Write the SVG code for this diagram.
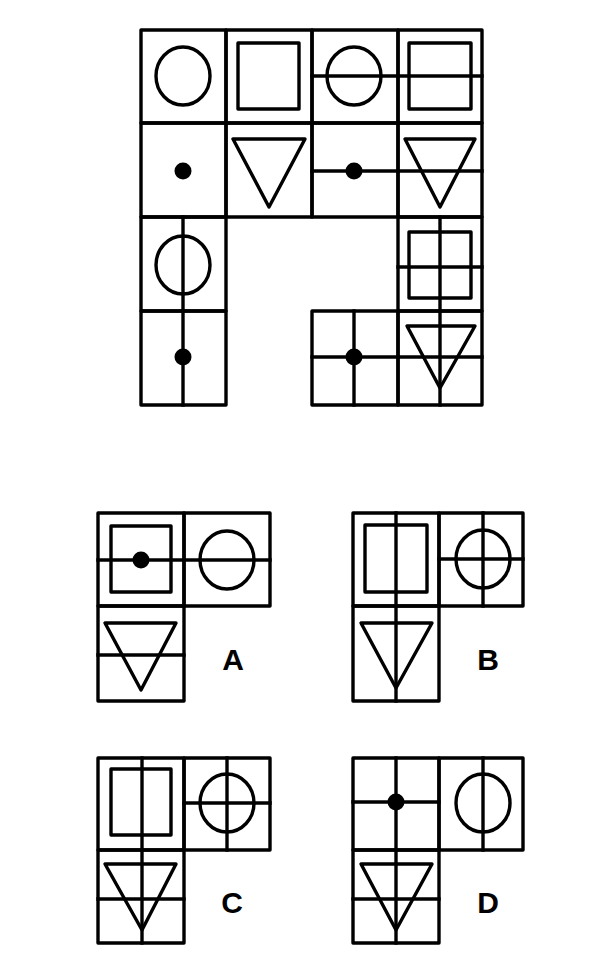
<svg xmlns="http://www.w3.org/2000/svg" width="603" height="974" viewBox="0 0 603 974">
<style>
.s{fill:none;stroke:#000;stroke-width:3.4;stroke-linejoin:round;stroke-linecap:square}
.d{fill:#000}
.l{font-family:"Liberation Sans",Arial,sans-serif;font-weight:bold;font-size:30px;fill:#000;text-anchor:middle}
</style>
<rect width="603" height="974" fill="#fff"/>
<g id="puzzle">
  <g id="r0c0"><rect class="s" x="141" y="30" width="85" height="93"/><ellipse class="s" cx="183" cy="76" rx="27" ry="29"/></g>
  <g id="r0c1"><rect class="s" x="226" y="30" width="86" height="93"/><rect class="s" x="238" y="43" width="61" height="66"/></g>
  <g id="r0c2"><rect class="s" x="312" y="30" width="86" height="93"/><ellipse class="s" cx="354" cy="76" rx="27" ry="29"/><line class="s" x1="312" y1="76" x2="398" y2="76"/></g>
  <g id="r0c3"><rect class="s" x="398" y="30" width="84" height="93"/><rect class="s" x="409" y="43" width="62" height="66"/><line class="s" x1="398" y1="76" x2="482" y2="76"/></g>
  <g id="r1c0"><rect class="s" x="141" y="123" width="85" height="94"/><circle class="d" cx="183" cy="171" r="8.5"/></g>
  <g id="r1c1"><rect class="s" x="226" y="123" width="86" height="94"/><polygon class="s" points="233,139 305,139 269,207"/></g>
  <g id="r1c2"><rect class="s" x="312" y="123" width="86" height="94"/><line class="s" x1="312" y1="171" x2="398" y2="171"/><circle class="d" cx="354" cy="171" r="8.5"/></g>
  <g id="r1c3"><rect class="s" x="398" y="123" width="84" height="94"/><polygon class="s" points="405,139 475,139 440,207"/><line class="s" x1="398" y1="171" x2="482" y2="171"/></g>
  <g id="r2c0"><rect class="s" x="141" y="217" width="85" height="94"/><ellipse class="s" cx="183" cy="265" rx="27" ry="29"/><line class="s" x1="183" y1="217" x2="183" y2="311"/></g>
  <g id="r2c3"><rect class="s" x="398" y="217" width="84" height="94"/><rect class="s" x="409" y="232" width="62" height="66"/><line class="s" x1="440" y1="217" x2="440" y2="311"/><line class="s" x1="398" y1="267" x2="482" y2="267"/></g>
  <g id="r3c0"><rect class="s" x="141" y="311" width="85" height="94"/><line class="s" x1="183" y1="311" x2="183" y2="405"/><circle class="d" cx="183" cy="357" r="8.5"/></g>
  <g id="r3c2"><rect class="s" x="312" y="311" width="86" height="94"/><line class="s" x1="354" y1="311" x2="354" y2="405"/><line class="s" x1="312" y1="357" x2="398" y2="357"/><circle class="d" cx="354" cy="357" r="8.5"/></g>
  <g id="r3c3"><rect class="s" x="398" y="311" width="84" height="94"/><polygon class="s" points="407,326 475,326 440,388"/><line class="s" x1="440" y1="311" x2="440" y2="405"/><line class="s" x1="398" y1="357" x2="482" y2="357"/></g>
</g>
<g id="optA">
  <rect class="s" x="98" y="513" width="86" height="93"/><rect class="s" x="184" y="513" width="86" height="93"/><rect class="s" x="98" y="606" width="86" height="95"/>
  <rect class="s" x="111" y="526" width="60" height="66"/><line class="s" x1="98" y1="560" x2="270" y2="560"/><circle class="d" cx="141" cy="560" r="8.5"/>
  <ellipse class="s" cx="227" cy="560" rx="27" ry="29"/>
  <polygon class="s" points="105,623 176,623 141,690"/><line class="s" x1="98" y1="655" x2="184" y2="655"/>
  <text class="l" x="233" y="670">A</text>
</g>
<g id="optB">
  <rect class="s" x="353" y="513" width="86" height="93"/><rect class="s" x="439" y="513" width="84" height="93"/><rect class="s" x="353" y="606" width="86" height="95"/>
  <rect class="s" x="365" y="525" width="62" height="67"/><line class="s" x1="396" y1="513" x2="396" y2="701"/>
  <ellipse class="s" cx="483" cy="559" rx="27" ry="29"/><line class="s" x1="483" y1="513" x2="483" y2="606"/><line class="s" x1="439" y1="559" x2="523" y2="559"/>
  <polygon class="s" points="361,623 432,623 396,688"/>
  <text class="l" x="488" y="670">B</text>
</g>
<g id="optC">
  <rect class="s" x="98" y="758" width="86" height="92"/><rect class="s" x="184" y="758" width="86" height="92"/><rect class="s" x="98" y="850" width="86" height="93"/>
  <rect class="s" x="111" y="769" width="60" height="66"/><line class="s" x1="142" y1="758" x2="142" y2="943"/>
  <ellipse class="s" cx="227" cy="803" rx="27" ry="29"/><line class="s" x1="227" y1="758" x2="227" y2="850"/><line class="s" x1="184" y1="803" x2="270" y2="803"/>
  <polygon class="s" points="105,864 176,864 142,930"/><line class="s" x1="98" y1="899" x2="184" y2="899"/>
  <text class="l" x="232" y="913">C</text>
</g>
<g id="optD">
  <rect class="s" x="353" y="758" width="86" height="92"/><rect class="s" x="439" y="758" width="84" height="92"/><rect class="s" x="353" y="850" width="86" height="93"/>
  <line class="s" x1="396" y1="758" x2="396" y2="943"/><line class="s" x1="353" y1="802" x2="439" y2="802"/><circle class="d" cx="396" cy="802" r="8.5"/>
  <ellipse class="s" cx="483" cy="803" rx="27" ry="29"/><line class="s" x1="483" y1="758" x2="483" y2="850"/>
  <polygon class="s" points="361,864 432,864 396,930"/><line class="s" x1="353" y1="899" x2="439" y2="899"/>
  <text class="l" x="488" y="913">D</text>
</g>
</svg>
